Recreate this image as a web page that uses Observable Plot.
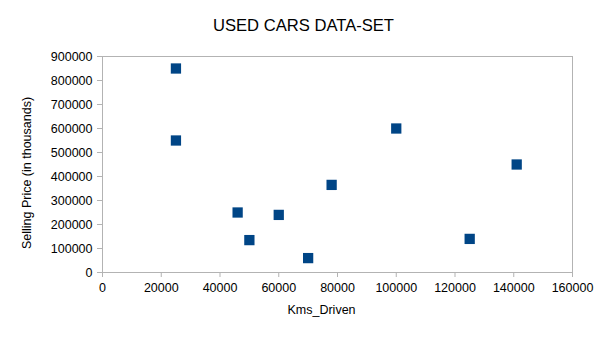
<!DOCTYPE html>
<html>
<head>
<meta charset="utf-8">
<script src="https://cdn.jsdelivr.net/npm/d3@7"></script>
<script src="https://cdn.jsdelivr.net/npm/@observablehq/plot@0.6"></script>
<style>
  html, body { margin: 0; padding: 0; background: #fff; }
  #chart { width: 605px; height: 340px; font-family: "Liberation Sans", Arial, sans-serif; }
  #title { height: 40px; box-sizing: border-box; padding-top: 18px; font-size: 16.6px; line-height: 16px; text-align: center; color: #000; padding-left: 2px; }
  svg { display: block; }
</style>
</head>
<body>
<div id="chart">
  <div id="title">USED CARS DATA-SET</div>
</div>
<script>
const kmsDriven    = [25000, 25000, 46000, 50000, 60000, 70000, 78000, 100000, 125000, 141000];
const sellingPrice = [850000, 550000, 250000, 135000, 240000, 60000, 365000, 600000, 140000, 450000];
const xTicks = [0, 20000, 40000, 60000, 80000, 100000, 120000, 140000, 160000];
const yTicks = [0, 100000, 200000, 300000, 400000, 500000, 600000, 700000, 800000, 900000];
const xLabel = "Kms_Driven";
const yLabel = "Selling Price (in thousands)";

const data = kmsDriven.map((k, i) => ({km: k, price: sellingPrice[i]}));
const gridColor = "#b3b3b3";
const fmt = d => String(d);

const plot = Plot.plot({
  width: 605,
  height: 300,
  marginTop: 16,
  marginLeft: 102,
  marginRight: 33,
  marginBottom: 68,
  style: {fontFamily: "'Liberation Sans', Arial, sans-serif", fontSize: "12.5px", color: "#000", background: "#fff", overflow: "visible"},
  x: {domain: [0, 160000]},
  y: {domain: [0, 900000]},
  marks: [
    Plot.frame({stroke: gridColor}),
    Plot.axisX({ticks: xTicks, tickFormat: fmt, tickSize: 5, tickPadding: 6, stroke: gridColor, fill: "#000", label: null, fontSize: "12.5px"}),
    Plot.axisY({ticks: yTicks, tickFormat: fmt, tickSize: 5, tickPadding: 5, stroke: gridColor, fill: "#000", label: null, fontSize: "12.5px"}),
    Plot.dot(data, {x: "km", y: "price", symbol: "square", r: 5.8, fill: "#004586", stroke: "none"}),
    Plot.text([xLabel], {frameAnchor: "bottom", dx: -16, dy: 41, fontSize: 12.5, fill: "#000"}),
    Plot.text([yLabel], {frameAnchor: "left", textAnchor: "middle", lineAnchor: "middle", dx: -76, dy: 8.5, rotate: -90, fontSize: 12.5, fill: "#000"})
  ]
});
document.getElementById("chart").appendChild(plot);
</script>
</body>
</html>
